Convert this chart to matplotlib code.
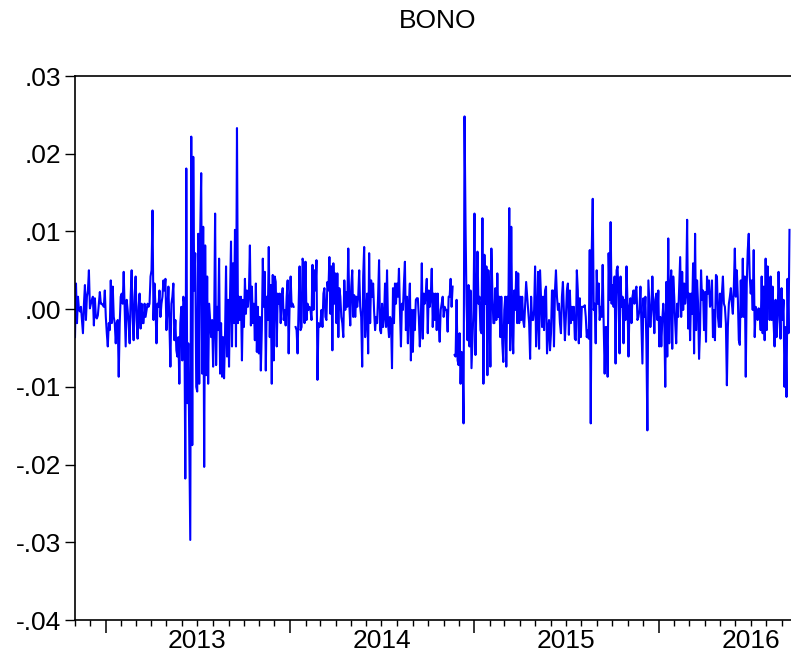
import matplotlib
matplotlib.use("Agg")
import matplotlib.pyplot as plt
import matplotlib.dates as mdates
import matplotlib.transforms as mtransforms
import numpy as np
import pandas as pd

nan = np.nan

# BONO daily returns in thousandths (1.0 = 0.001)
tramo_2012 = [
    -3.6, 3.3, -1.8, 1.6, -0.1, -0.3, 0.3, -1.4, -3.1, 0.7, 3.1, -1.4, 1.6, 2.4, 5.0,
    0.1, 0.7, 1.2, 1.6, -2.1, 1.4, -1.0, -1.2, -0.8, 0.7, 2.2, 0.7, 0.7, 0.5, 0.3,
    2.4, -1.0, -3.1, -4.8, -1.8, -2.7, 3.7, -1.8, 2.9, -1.0, -1.8, -4.4, -1.8, -1.4,
    -8.7, -1.8, 1.6, 2.0, 0.7, 4.8, -0.1, -4.8, 1.2, -0.1, -1.8, -4.4, 1.6, 5.0, -1.0,
    -4.0, 1.6, 4.2, -1.4, -3.8, 0.3, 2.0, -2.5, 0.7, -1.8, -1.8, 0.7, -1.0, -0.1, 0.7,
    0.3, 0.7, 4.2, 5.0, 12.7, -1.4, 3.3, 0.3, -4.4, 0.7, 0.3, 2.4, -1.0, 0.7, 1.6, 3.7,
    2.4, 3.9, -2.7, -0.1, 2.9, -1.8, -7.4, 0.7, 1.6, 3.3, -4.0, -1.4, -5.3, -6.1, -3.6,
    -9.6, -1.8, 0.3, -6.6, 1.6, 0.7, -21.8, 18.1, -12.1, -4.4, -16.4, -29.7,
]
tramo_2013 = [
    22.2, -17.5, 19.6, 2.4, 7.2, -10.0, -10.6, 9.7, -9.6, 9.7, 17.5, -8.3, 10.6, -20.3,
    8.2, -8.5, 4.2, -9.6, 0.7, -1.4, -3.6, -1.4, -7.4, -2.3, 12.3, -7.2, 0.3, -2.7, 6.5,
    -8.3, -1.8, -8.7, -3.6, -8.9, -3.1, 5.5, -6.1, 1.2, -7.4, 1.6, 8.7, -4.8, 5.9, -1.8,
    10.2, -4.8, 23.3, -1.8, 1.6, -1.4, 1.6, -6.6, 1.2, -2.3, 3.9, -0.6, 2.4, 0.3, 2.0,
    8.2, -2.1, 2.9, -1.8, 0.7, -4.0, 3.3, -5.5, 0.3, -5.7, -1.0, -7.9, -2.7, 6.5, 0.3,
    4.8, -7.9, 1.6, -1.4, 8.0, -3.6, 3.1, -9.6, 4.4, -6.6, 4.2, 3.5, -4.8, 2.0, 0.7,
    2.0, -1.8, 1.6, 2.7, -1.4, -0.1, -2.1, 1.6, 3.7, -5.7, 0.7, 4.2, 0.3, 0.7, 0.3, nan,
    -2.3, -2.7, -5.7, 0.3, 5.5, -2.7, -2.3, 6.5, 5.9, -1.8, 6.1, -1.4, 0.7, -0.1,
]
tramo_2014a = [
    0.3, -0.1, -1.4, 5.7, -0.1, 5.0, 2.4, 6.3, -9.1, -1.8, -2.3, -1.8, -0.1, -2.3, 2.0,
    2.7, -1.0, -1.4, 3.5, 2.4, 6.7, -0.6, 5.5, -5.3, 5.9, 0.7, 4.6, -1.8, 4.6, -3.6,
    2.7, 1.6, -1.0, -1.8, -3.6, 3.7, -0.1, 2.2, 0.3, 7.8, 0.7, -2.1, 2.9, 5.0, -1.0,
    1.8, -1.0, 1.6, 0.3, 1.6, 5.0, 0.3, -1.0, -7.4, 4.2, 8.0, -3.6, -1.0, 2.0, -5.7,
    7.2, -1.8, 3.7, 1.6, 3.3, -0.3, -2.7, -1.0, -1.8, 1.6, 6.3, -2.7, -3.1, 0.7, -2.3,
    -1.0, 3.3, -2.3, 5.0, -1.8, -3.6, -1.0, -1.4, -7.6, 2.7, -1.8, 3.3, 0.7, 3.3, 1.6,
    5.2, -0.1, -4.8, 0.7, -0.1, 3.3, 6.1, -2.7, 1.6, -4.4, 0.7, 3.3, -6.6, -0.1, -5.5,
    -0.1, -2.7, 1.2, 1.4, 1.4, -1.0, -4.8, -1.8, 5.9, -3.8, 2.0, 0.7,
]
tramo_2014b = [
    2.0, 3.9, -3.1, 2.4, 0.3, 1.6, 5.2, -2.3, 2.0, -1.4, 2.0, -2.7, 2.0, -1.8, -4.2,
    -0.1, 0.7, 1.6, -1.0, 0.3, -0.1, -0.1, -2.9, 1.6, 1.6, 3.9, 0.3, 2.9, nan, -5.9,
    -6.1, 1.2, -6.6, -7.2, -3.1, -9.6, -5.5, -5.7, -14.7, 24.8, 11.0, 0.7, -4.0, 3.1,
    -4.8, 2.4, -7.6, -4.0, -0.1, 12.3, -5.9, 1.2, 7.4, 0.7, 1.6, -2.7, -3.1, 11.7, -9.6,
    7.0, 0.7, 5.5, -8.5, 5.0, 0.7, -7.4, 7.8, 2.4, -1.8, -1.8, 2.7, -1.4, 4.6, -1.0,
    1.6, -3.6, 1.6, -4.4, -6.8, -0.1, 1.6, -7.4, 1.6, -1.8, 13.0, -5.3, 10.6, -1.8,
    -5.7, 2.4, -0.1, 4.8, -1.8, 4.6, -1.8, 1.6, -1.4, 1.6, -1.4, -2.3, 0.7, 3.5, 1.6,
    -0.1, -1.8, -6.4, 1.6, -1.4, -1.4, -0.1, 5.5, -4.8, -1.4, 4.8, -5.1, 5.0, 1.2,
    -2.3, 1.6, -2.7, 2.4,
]
tramo_2015 = [
    2.9, -5.7, -2.7, -1.4, -5.3, -3.1, 2.4, 2.4, -4.8, 2.4, 5.0, 1.6, -0.1, 0.7, -1.8,
    -3.1, 1.6, 3.5, -0.1, -4.0, -1.0, 2.4, 3.3, -3.3, 2.4, -1.8, 0.3, -1.4, 0.3, -3.8,
    -4.0, 5.0, 2.4, -4.4, 1.4, -3.6, 0.3, 0.3, 0.3, 0.5, -1.0, -3.6, -2.7, -3.8, 7.6,
    -14.7, 7.6, 14.2, -0.1, 0.7, -4.4, 5.0, 0.7, 3.3, -1.4, 0.3, -1.0, 5.7, -1.8, -8.3,
    -2.3, -2.3, -8.7, 7.2, 1.2, 11.2, 0.7, 3.1, 0.3, 4.2, -7.0, 5.0, 5.5, 1.6, -5.7,
    4.2, 0.3, 1.6, -4.4, 1.2, -1.4, 5.5, 0.7, -6.1, 0.3, 1.4, -1.8, 1.6, 2.4, 0.7, 2.4,
    2.9, -1.4, -1.0, -0.1, 2.9, -2.3, -7.0, 1.4, -1.0, 1.6, -4.4, -15.6, 3.7, 0.7,
    -2.3, -0.1, 4.2, 0.3, -3.1, 1.2, 2.0, -1.4, 2.4, -4.8, -1.0, -4.8, -1.4, 0.7, -1.4,
]
tramo_2016 = [
    -10.0, 3.5, -6.1, 9.1, -4.4, 2.4, 5.0, -5.1, 4.2, 1.6, -1.8, -4.4, 0.7, -1.0, 2.9,
    6.7, -1.0, 4.8, -0.1, 3.3, 0.7, 2.0, 11.5, -2.5, 2.0, -4.0, 2.0, -0.6, 5.9, -5.7,
    9.7, -2.7, 3.7, 0.7, -6.4, -2.7, 5.0, 1.2, 2.4, -2.7, 2.2, -4.2, 4.2, 2.0, 3.7,
    0.3, 0.7, 3.7, -3.6, -0.1, -4.0, 4.4, 4.2, -1.0, -2.3, 2.0, -2.3, 2.0, 4.2, 0.7,
    0.3, -1.8, -9.8, -2.3, 0.7, 1.6, 2.7, 0.7, -0.6, 2.9, 7.8, 1.6, 5.0, 1.6, -4.0,
    -4.6, 3.7, -1.0, 6.5, -1.0, 4.2, -8.7, 3.3, 7.6, 9.7, 4.2, 2.0, 3.7, -0.1, 7.6,
    -3.6, 0.3, -0.1, -1.4, 0.1, -0.1, -2.7, 4.2, -3.1, 2.9, -4.0, 6.5, -2.7, 5.5, 2.4,
    -1.4, 4.2, -1.4, 2.9, -1.8, -4.8, 1.2, -3.6, -1.4, 4.8, -0.1, -3.8, 2.7, -1.4, 1.2,
    -10.0, -2.3, -11.3, 3.9, -3.1, 10.2,
]

fecha_inicio = "2012-11-01"
fecha_fin = "2016-09-16"

bono = np.array(tramo_2012 + tramo_2013 + tramo_2014a + tramo_2014b + tramo_2015 + tramo_2016) / 1000.0
fechas = pd.date_range(fecha_inicio, fecha_fin, periods=len(bono))

anios = [2013, 2014, 2015, 2016]
y_ticks = [-0.04, -0.03, -0.02, -0.01, 0.0, 0.01, 0.02, 0.03]
y_labels = ["-.04", "-.03", "-.02", "-.01", ".00", ".01", ".02", ".03"]

plt.rcParams['font.family'] = ['Liberation Sans', 'DejaVu Sans']

fig = plt.figure(figsize=(7.91, 6.63), dpi=100)
ax = fig.add_axes([75 / 791, 1 - 620 / 663, 1 - 75 / 791, (620 - 76) / 663])

ax.plot(fechas, bono, color='#0000ff', lw=1.5)

ax.set_ylim(-0.04, 0.03)
ax.set_xlim(pd.Timestamp("2012-11-01"), pd.Timestamp("2016-09-19"))
ax.set_yticks(y_ticks)
ax.set_yticklabels(y_labels)

ax.xaxis.set_major_locator(mdates.YearLocator())
ax.xaxis.set_minor_locator(mdates.MonthLocator())
ax.xaxis.set_major_formatter(plt.NullFormatter())
ax.tick_params(axis='x', which='major', length=9, width=1.1, direction='out')
ax.tick_params(axis='x', which='minor', length=4, width=1.0, direction='out')
ax.tick_params(axis='y', length=7, width=1.0, direction='out', labelsize=19, pad=3)

for s in ['left', 'bottom', 'top']:
    ax.spines[s].set_linewidth(1.2)
ax.spines['right'].set_visible(False)

# year labels centred in each year
trans = mtransforms.blended_transform_factory(ax.transData, ax.transAxes)
for a in anios:
    ax.text(pd.Timestamp(f"{a}-07-01"), -0.017, str(a), transform=trans,
            ha='center', va='top', fontsize=19)

fig.text(438 / 791, 1 - 21 / 663, "BONO", ha='center', va='center', fontsize=19)

fig.savefig("out.png", dpi=100)
